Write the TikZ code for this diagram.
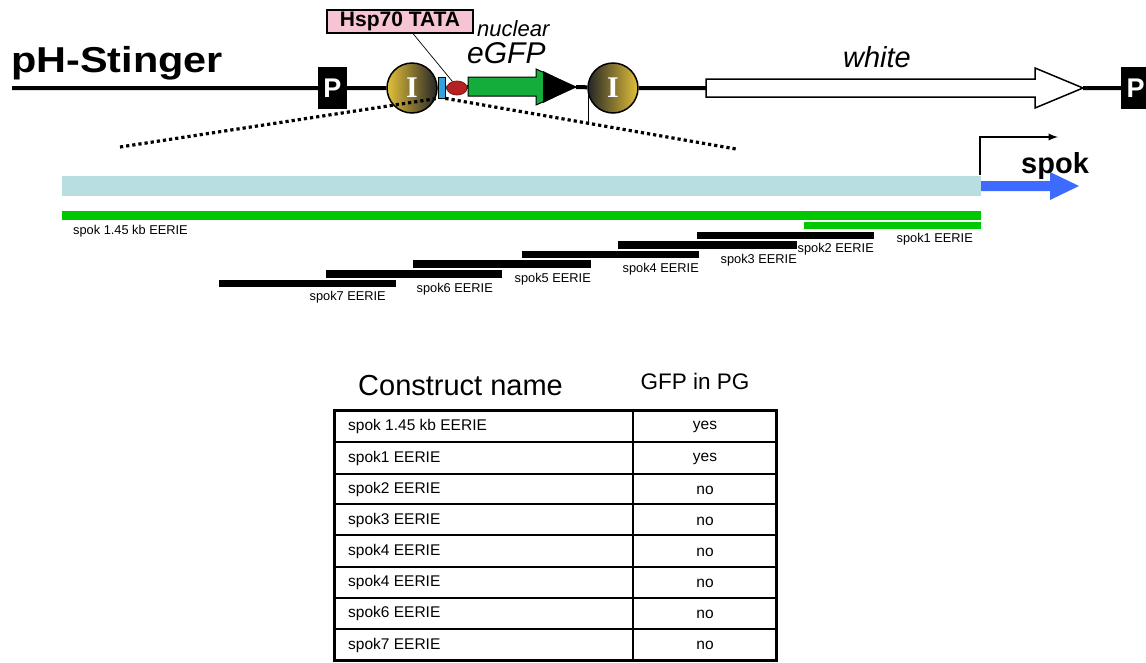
\documentclass[tikz,border=0pt]{standalone}
\usepackage{fontspec}
\setmainfont{Liberation Sans}
\newfontfamily\intronfont{Liberation Serif}
\usetikzlibrary{calc,shapes.geometric}

\definecolor{tatapink}{HTML}{F7C4D4}
\definecolor{tatared}{HTML}{B42222}
\definecolor{insblue}{HTML}{2EA3DC}
\definecolor{gfpgreen}{HTML}{14AC3A}
\definecolor{introngold}{HTML}{E2C03A}
\definecolor{locusblue}{HTML}{B9DEE2}
\definecolor{eeriegreen}{HTML}{00C800}
\definecolor{spokblue}{HTML}{3D6BFF}

\begin{document}
\begin{tikzpicture}[x=1pt,y=-1pt,
  pbox/.style={fill=black,text=white,inner sep=0,minimum width=29pt,minimum height=42pt,
    font=\bfseries\fontsize{27}{27}\selectfont},
  intron/.style={circle,draw=black,line width=1.5pt,minimum size=50pt,inner sep=0,text=white,
    font=\intronfont\bfseries\fontsize{30}{30}\selectfont},
  backbone/.style={draw=black,line width=4pt},
  zoomline/.style={draw=black,line width=3.2pt,dash pattern=on 3.2pt off 3pt},
  lbl/.style={inner sep=0,font=\fontsize{12.8}{13}\selectfont},
  cell/.style={inner sep=0,font=\fontsize{15.5}{16}\selectfont}]

\useasboundingbox (0,0) rectangle (1146,662);

%vector
\node[inner sep=0,anchor=base west,xscale=1.15,font=\bfseries\fontsize{36}{36}\selectfont] (name) at (11,72) {pH-Stinger};
\coordinate (bbstart) at (12,88);
\node[pbox] (p1) at (332.5,88) {P};
\node[pbox,anchor=west] (p2) at (1121,88) {P};
\node[intron,left color=introngold,right color=black!85] (i1) at (412,88) {I};
\node[draw=black,line width=0.8pt,fill=insblue,inner sep=0,minimum width=7pt,minimum height=21pt] (ins) at (441.5,87.5) {};
\node[ellipse,draw=tatared!70!black,line width=0.8pt,fill=tatared,inner sep=0,minimum width=20pt,minimum height=14pt] (tata) at (457,88) {};
\node[intron,left color=black!85,right color=introngold] (i2) at (613,88) {I};

%eGFP
\coordinate (gfpstart) at (468,87);
\coordinate (gfptip) at (576,87);
\draw[draw=black,line width=1pt,fill=gfpgreen] (468,77) -- (536,77) -- (536,69) -- (576,87) -- (536,105) -- (536,96) -- (468,96) -- cycle;
\fill[black] (543,71) -- (576,87) -- (543,103) -- cycle;
\node[inner sep=0,anchor=base west,text depth=0pt,font=\itshape\fontsize{22}{22}\selectfont] (nuc) at (477,36) {nuclear};
\node[inner sep=0,anchor=base west,text height=21pt,font=\itshape\fontsize{30}{30}\selectfont] (gfp) at (467,63) {eGFP};

%white
\coordinate (wstart) at (706,88);
\coordinate (wtip) at (1083,88);
\draw[draw=black,line width=1.5pt,fill=white] (706,79) -- (1035,79) -- (1035,68) -- (1083,88) -- (1035,108) -- (1035,97) -- (706,97) -- cycle;
\node[inner sep=0,anchor=base,font=\itshape\fontsize{29}{29}\selectfont] (wh) at (877,67) {white};

\path[backbone] (bbstart) -- (p1) (p1) -- (i1) (i1) -- (ins) (ins) -- (tata) (tata) -- (gfpstart);
\path[backbone] (gfptip) -- (i2) (i2) -- (wstart) (wtip) -- (p2);

%Hsp70 TATA
\node[draw=black,line width=1.2pt,fill=tatapink,inner sep=0,minimum width=146pt,minimum height=23pt,
  font=\bfseries\fontsize{21}{21}\selectfont] (hsp) at (400,21.5) {Hsp70 TATA};
\draw[line width=0.7pt] ($(hsp.south)+(13,0)$) -- (tata.125);

%zoom
\coordinate (zl) at (120,147);
\coordinate (zr) at (736,149);
\coordinate (tk) at (588,122);
\draw[line width=1.2pt] (i2.195) -- (i2.195 |- tk);
\path[zoomline] (zl) -- (ins.south west);
\path[zoomline] (ins.south east) -- (zr);

%spok locus
\fill[locusblue] (62,176) rectangle (981,196);
\fill[spokblue] (981,181) -- (1050,181) -- (1050,172) -- (1079,186) -- (1050,200) -- (1050,191) -- (981,191) -- cycle;
\coordinate (tss) at (980,175);
\coordinate (tssend) at (1058,137);
\draw[line width=2.2pt,-latex] (tss) |- (tssend);
\node[inner sep=0,anchor=base west,font=\bfseries\fontsize{29}{29}\selectfont] (spok) at (1021,173) {spok};

%fragments
\fill[eeriegreen] (62,211) rectangle (981,220);
\fill[eeriegreen] (804,222) rectangle (981,229);
\fill[black] (697,232) rectangle (874,239);
\fill[black] (618,241) rectangle (797,249);
\fill[black] (522,251) rectangle (699,258);
\fill[black] (413,260) rectangle (591,268);
\fill[black] (326,270) rectangle (502,278);
\fill[black] (219,280) rectangle (396,287);

\node[lbl,anchor=west] (f0) at (73,231) {spok 1.45 kb EERIE};
\node[lbl,anchor=east] (f1) at (973,239) {spok1 EERIE};
\node[lbl,anchor=east] (f2) at (874,249) {spok2 EERIE};
\node[lbl,anchor=east] (f3) at (797,260) {spok3 EERIE};
\node[lbl,anchor=east] (f4) at (699,269) {spok4 EERIE};
\node[lbl,anchor=east] (f5) at (591,279) {spok5 EERIE};
\node[lbl,anchor=east] (f6) at (493,289) {spok6 EERIE};
\node[lbl,anchor=east] (f7) at (386,297) {spok7 EERIE};

%table
\node[inner sep=0,anchor=base west,font=\fontsize{29}{29}\selectfont] (hname) at (358,395) {Construct name};
\node[inner sep=0,anchor=base,font=\fontsize{22.5}{22.5}\selectfont] (hgfp) at (695,389) {GFP in PG};

\draw[line width=1.5pt] (334,442) -- (777,442);
\draw[line width=1.5pt] (334,474) -- (777,474);
\draw[line width=1.5pt] (334,504) -- (777,504);
\draw[line width=1.5pt] (334,535) -- (777,535);
\draw[line width=1.5pt] (334,567) -- (777,567);
\draw[line width=1.5pt] (334,598) -- (777,598);
\draw[line width=1.5pt] (334,629) -- (777,629);
\draw[line width=1.5pt] (633,410) -- (633,660);
\draw[line width=3pt] (334.5,410) rectangle (776.5,660.5);

\node[cell,anchor=west] (r1) at (348,426) {spok 1.45 kb EERIE};
\node[cell] (g1) at (705,427) {yes};
\node[cell,anchor=west] (r2) at (348,458) {spok1 EERIE};
\node[cell] (g2) at (705,459) {yes};
\node[cell,anchor=west] (r3) at (348,489) {spok2 EERIE};
\node[cell] (g3) at (705,490) {no};
\node[cell,anchor=west] (r4) at (348,520) {spok3 EERIE};
\node[cell] (g4) at (705,521) {no};
\node[cell,anchor=west] (r5) at (348,551) {spok4 EERIE};
\node[cell] (g5) at (705,552) {no};
\node[cell,anchor=west] (r6) at (348,582.5) {spok4 EERIE};
\node[cell] (g6) at (705,583) {no};
\node[cell,anchor=west] (r7) at (348,613.5) {spok6 EERIE};
\node[cell] (g7) at (705,614) {no};
\node[cell,anchor=west] (r8) at (348,645) {spok7 EERIE};
\node[cell] (g8) at (705,645) {no};

\end{tikzpicture}
\end{document}
